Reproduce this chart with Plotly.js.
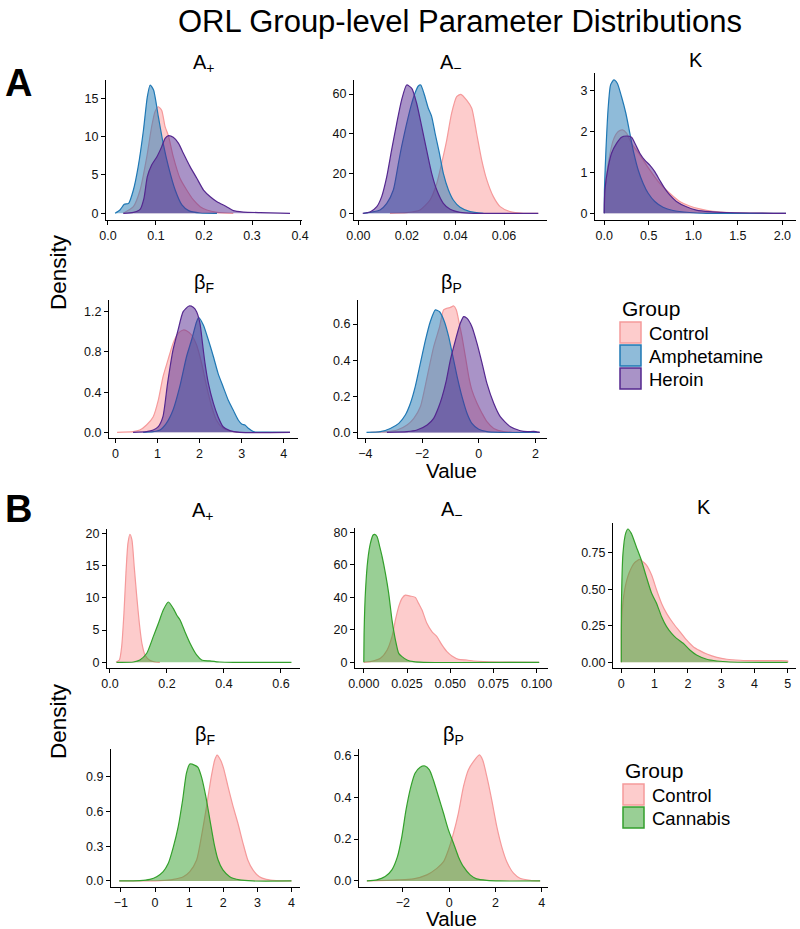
<!DOCTYPE html>
<html><head><meta charset="utf-8">
<script src="https://cdn.plot.ly/plotly-3.0.1.min.js"></script>
<style>html,body{margin:0;padding:0;background:#fff}#chart{width:800px;height:929px}</style>
</head><body><div id="chart"></div>
<script>
// ---------- Data ----------
const chartTitle = "ORL Group-level Parameter Distributions";
const groupsA = ["Control", "Amphetamine", "Heroin"];
const groupsB = ["Control", "Cannabis"];
const paramTitles = ["A<sub>+</sub>", "A<sub>−</sub>", "K", "β<sub>F</sub>", "β<sub>P</sub>"];

// Panel A, A+
const A_Ap_Control_x = [0.032,0.053,0.067,0.081,0.091,0.098,0.105,0.112,0.119,0.126,0.136,0.150,0.164,0.178,0.192,0.206,0.227,0.261];
const A_Ap_Control_y = [0,0.87,3.04,7.39,11.3,13.26,13.9,13.4,11.3,10.1,7.39,4.57,3.04,1.74,0.87,0.43,0.13,0];
const A_Ap_Amph_x = [0.015,0.025,0.034,0.043,0.053,0.063,0.074,0.082,0.088,0.095,0.105,0.115,0.126,0.140,0.154,0.168,0.192,0.227];
const A_Ap_Amph_y = [0,0.43,1.17,1.3,3.04,6.09,10.87,15.2,16.74,16.09,12.6,9.13,6.09,3.04,1.09,0.35,0.04,0];
const A_Ap_Heroin_x = [0.032,0.053,0.067,0.075,0.082,0.091,0.102,0.112,0.119,0.126,0.136,0.147,0.157,0.171,0.185,0.199,0.213,0.227,0.247,0.261,0.282,0.317,0.379];
const A_Ap_Heroin_y = [0,0.13,0.52,1.96,4.78,6.3,7.39,8.7,9.78,10.13,9.91,9.13,7.83,6.09,4.57,3.04,2.17,1.52,0.87,0.35,0.17,0.09,0];

// Panel A, A-
const A_Am_Control_x = [0.013,0.0199,0.0254,0.0295,0.0323,0.0343,0.0364,0.0384,0.0405,0.0422,0.0446,0.0467,0.0487,0.0508,0.0529,0.0556,0.0584,0.0625,0.068,0.0741];
const A_Am_Control_y = [0,0.34,1.68,6.71,15.1,25.2,36.9,50.3,58.7,59.9,57.0,52.9,40.3,26.8,16.8,8.39,3.36,0.84,0,0];
const A_Am_Amph_x = [0.0021,0.0089,0.0117,0.0144,0.0165,0.0178,0.0196,0.0216,0.0233,0.0247,0.0257,0.027,0.0288,0.0302,0.0316,0.0334,0.035,0.0371,0.0391,0.0419,0.046,0.0515];
const A_Am_Amph_y = [0,1.68,5.03,11.74,25.2,33.6,43.6,53.7,60.4,64.1,64.6,60.4,52.9,48.7,40.3,30.2,20.1,11.74,6.71,3.02,0.84,0];
const A_Am_Heroin_x = [0.0018,0.0048,0.0076,0.0096,0.0117,0.0137,0.0158,0.0178,0.0199,0.022,0.024,0.0261,0.0281,0.0302,0.0323,0.035,0.0378,0.0419,0.0474,0.0741];
const A_Am_Heroin_y = [0,0.67,3.36,8.39,18.46,31.9,45.3,57.0,64.6,62.9,55.4,43.6,31.9,20.1,11.7,5.03,2.01,0.5,0,0];

// Panel A, K
const A_K_Control_x = [0,0.007,0.045,0.101,0.157,0.205,0.25,0.306,0.399,0.511,0.623,0.735,0.847,0.959,1.071,1.22,1.407,2.041];
const A_K_Control_y = [0,0.57,1.22,1.79,2.0,2.04,1.96,1.71,1.43,1.06,0.73,0.49,0.29,0.18,0.11,0.05,0.02,0];
const A_K_Amph_x = [0,0.002,0.019,0.045,0.071,0.108,0.146,0.194,0.243,0.287,0.332,0.381,0.437,0.493,0.567,0.66,0.772,0.959,1.146,2.041];
const A_K_Amph_y = [0,0.57,1.55,2.61,3.14,3.26,3.18,2.85,2.44,1.96,1.47,1.06,0.73,0.49,0.29,0.15,0.07,0.02,0,0];
const A_K_Heroin_x = [0,0.007,0.045,0.082,0.138,0.194,0.25,0.306,0.362,0.399,0.455,0.511,0.567,0.623,0.679,0.735,0.81,0.922,1.034,1.183,1.369,2.041];
const A_K_Heroin_y = [0,0.57,1.14,1.47,1.71,1.86,1.89,1.86,1.63,1.47,1.30,1.18,1.02,0.81,0.61,0.45,0.29,0.16,0.08,0.04,0.02,0];

// Panel A, beta F
const A_bF_Control_x = [0.04,0.42,0.58,0.74,0.9,1.02,1.13,1.25,1.37,1.49,1.61,1.69,1.81,1.93,2.05,2.17,2.29,2.4,2.56,2.8,3.04,4.15];
const A_bF_Control_y = [0,0.007,0.023,0.073,0.156,0.32,0.55,0.72,0.885,0.984,1.018,1.011,0.968,0.868,0.686,0.454,0.255,0.123,0.04,0.007,0,0];
const A_bF_Amph_x = [0.66,0.9,1.06,1.21,1.37,1.53,1.69,1.81,1.93,1.98,2.09,2.21,2.33,2.44,2.56,2.68,2.8,2.92,3.0,3.08,3.16,3.28,3.6,4.15];
const A_bF_Amph_y = [0,0.007,0.023,0.089,0.222,0.454,0.752,0.918,1.10,1.14,1.067,0.918,0.752,0.587,0.454,0.322,0.222,0.123,0.083,0.073,0.04,0.007,0.003,0];
const A_bF_Heroin_x = [0.42,0.74,0.9,1.02,1.13,1.24,1.37,1.49,1.61,1.75,1.85,1.93,2.01,2.07,2.13,2.21,2.33,2.44,2.56,2.72,2.96,4.15];
const A_bF_Heroin_y = [0,0.007,0.023,0.056,0.156,0.487,0.819,1.018,1.2,1.256,1.243,1.2,1.084,0.885,0.686,0.487,0.288,0.156,0.056,0.017,0,0];

// Panel A, beta P
const A_bP_Control_x = [-3.82,-3.24,-2.88,-2.53,-2.29,-2.06,-1.82,-1.59,-1.38,-1.24,-1.12,-1.0,-0.88,-0.79,-0.71,-0.59,-0.47,-0.35,-0.24,-0.06,0.12,0.29,0.53,0.88,1.47,2.15];
const A_bP_Control_y = [0,0.004,0.013,0.041,0.078,0.142,0.308,0.474,0.585,0.678,0.687,0.692,0.7,0.678,0.622,0.53,0.419,0.308,0.234,0.161,0.105,0.059,0.022,0.004,0,0];
const A_bP_Amph_x = [-3.96,-3.47,-3.12,-2.82,-2.59,-2.41,-2.24,-2.06,-1.88,-1.71,-1.53,-1.38,-1.21,-1.06,-0.91,-0.76,-0.59,-0.41,-0.24,0,0.29,0.76,2.15];
const A_bP_Amph_y = [0,0.004,0.022,0.05,0.096,0.161,0.253,0.382,0.511,0.613,0.678,0.668,0.613,0.53,0.419,0.308,0.198,0.105,0.05,0.017,0.004,0,0];
const A_bP_Heroin_x = [-3.24,-2.53,-2.18,-1.82,-1.59,-1.41,-1.29,-1.14,-1.0,-0.82,-0.65,-0.53,-0.41,-0.24,-0.06,0.12,0.29,0.53,0.76,1.12,1.47,1.71,1.94,2.15];
const A_bP_Heroin_y = [0,0.004,0.013,0.041,0.078,0.142,0.198,0.29,0.401,0.511,0.604,0.641,0.631,0.585,0.493,0.382,0.271,0.161,0.087,0.031,0.009,0.004,0.006,0];

// Panel B, A+
const B_Ap_Control_x = [0.021,0.033,0.041,0.049,0.056,0.063,0.07,0.077,0.085,0.094,0.103,0.112,0.123,0.138,0.158,0.175];
const B_Ap_Control_y = [0,0.36,2.43,7.6,13.8,18.45,19.85,18.97,14.83,10.18,6.05,2.95,1.14,0.36,0.05,0];
const B_Ap_Cannabis_x = [0.023,0.082,0.105,0.129,0.152,0.17,0.187,0.205,0.222,0.234,0.246,0.263,0.281,0.304,0.322,0.351,0.386,0.433,0.637];
const B_Ap_Cannabis_y = [0,0.05,0.36,1.4,3.98,6.05,8.11,9.35,8.37,7.34,6.56,4.75,2.95,1.14,0.36,0.21,0.05,0,0];

// Panel B, A-
const B_Am_Control_x = [0,0.0038,0.0096,0.0135,0.0163,0.0183,0.0202,0.0221,0.024,0.0269,0.0298,0.0317,0.0337,0.0365,0.0394,0.0423,0.0452,0.0481,0.051,0.0548,0.0596,0.0635,0.0692,0.0788,0.1015];
const B_Am_Control_y = [0,0.41,2.46,7.6,15.8,26.1,34.3,39.4,41.4,40.8,40.0,36.3,32.2,24.0,18.9,15.8,10.7,6.56,3.9,1.85,1.44,0.82,0.41,0.2,0];
const B_Am_Cannabis_x = [0,0.0002,0.001,0.0023,0.0038,0.0054,0.0063,0.0077,0.0092,0.0106,0.0125,0.0144,0.0163,0.0183,0.0202,0.0221,0.025,0.0288,0.0346,0.1015];
const B_Am_Cannabis_y = [0,19.9,44.5,63.0,73.2,78.4,78.8,77.3,71.2,65.0,54.8,42.5,26.1,13.7,5.5,3.5,1.44,0.41,0,0];

// Panel B, K
const B_K_Control_x = [0,0.01,0.1,0.23,0.4,0.55,0.65,0.75,0.91,1.06,1.21,1.36,1.56,1.76,1.96,2.16,2.36,2.57,2.87,3.17,3.57,4.07,4.58,5.0,5.0];
const B_K_Control_y = [0,0.29,0.495,0.609,0.682,0.704,0.688,0.666,0.597,0.495,0.403,0.335,0.267,0.21,0.153,0.107,0.08,0.057,0.034,0.021,0.014,0.011,0.011,0.009,0];
const B_K_Cannabis_x = [0,0.003,0.05,0.13,0.2,0.3,0.45,0.6,0.75,0.91,1.06,1.21,1.36,1.51,1.66,1.86,2.06,2.26,2.57,2.87,3.27,5.0];
const B_K_Cannabis_y = [0,0.38,0.745,0.882,0.912,0.882,0.791,0.7,0.586,0.472,0.403,0.312,0.244,0.198,0.164,0.13,0.084,0.05,0.021,0.009,0.002,0];

// Panel B, beta F
const B_bF_Control_x = [-1.05,0.15,0.54,0.83,1.02,1.22,1.36,1.51,1.65,1.75,1.82,1.92,2.01,2.14,2.29,2.43,2.58,2.72,2.87,3.06,3.26,3.55,4.0];
const B_bF_Control_y = [0,0.003,0.014,0.037,0.081,0.181,0.383,0.641,0.9,1.044,1.087,1.044,0.972,0.814,0.641,0.498,0.325,0.181,0.095,0.037,0.014,0.003,0];
const B_bF_Cannabis_x = [-1.05,-0.44,-0.15,0.05,0.24,0.39,0.54,0.68,0.81,0.92,1.02,1.17,1.26,1.36,1.49,1.61,1.73,1.85,1.99,2.19,2.48,2.87,4.0];
const B_bF_Cannabis_y = [0,0.003,0.014,0.037,0.081,0.152,0.296,0.469,0.699,0.929,1.009,0.998,0.981,0.9,0.728,0.526,0.325,0.181,0.095,0.037,0.009,0,0];

// Panel B, beta P
const B_bP_Control_x = [-3.55,-2.26,-1.54,-0.96,-0.53,-0.24,-0.03,0.19,0.4,0.62,0.83,1.05,1.31,1.45,1.63,1.84,2.06,2.27,2.49,2.78,3.06,3.5,3.93];
const B_bP_Control_y = [0,0.005,0.01,0.029,0.06,0.092,0.148,0.228,0.323,0.45,0.53,0.57,0.602,0.578,0.498,0.387,0.259,0.164,0.092,0.037,0.013,0.003,0];
const B_bP_Cannabis_x = [-3.55,-3.12,-2.76,-2.47,-2.23,-2.04,-1.86,-1.65,-1.47,-1.25,-1.04,-0.85,-0.68,-0.46,-0.24,-0.03,0.19,0.4,0.62,0.91,1.19,1.63,2.2,3.93];
const B_bP_Cannabis_y = [0,0.005,0.021,0.053,0.116,0.212,0.339,0.45,0.514,0.543,0.549,0.53,0.482,0.403,0.323,0.244,0.18,0.116,0.068,0.029,0.01,0.003,0,0];

// Tick values / labels
const tk_A_Ap_x = [0,0.1,0.2,0.3,0.4], tl_A_Ap_x = ["0.0","0.1","0.2","0.3","0.4"];
const tk_A_Ap_y = [0,5,10,15], tl_A_Ap_y = ["0","5","10","15"];
const tk_A_Am_x = [0,0.02,0.04,0.06], tl_A_Am_x = ["0.00","0.02","0.04","0.06"];
const tk_A_Am_y = [0,20,40,60], tl_A_Am_y = ["0","20","40","60"];
const tk_A_K_x = [0,0.5,1,1.5,2], tl_A_K_x = ["0.0","0.5","1.0","1.5","2.0"];
const tk_A_K_y = [0,1,2,3], tl_A_K_y = ["0","1","2","3"];
const tk_A_bF_x = [0,1,2,3,4], tl_A_bF_x = ["0","1","2","3","4"];
const tk_A_bF_y = [0,0.4,0.8,1.2], tl_A_bF_y = ["0.0","0.4","0.8","1.2"];
const tk_A_bP_x = [-4,-2,0,2], tl_A_bP_x = ["−4","−2","0","2"];
const tk_A_bP_y = [0,0.2,0.4,0.6], tl_A_bP_y = ["0.0","0.2","0.4","0.6"];
const tk_B_Ap_x = [0,0.2,0.4,0.6], tl_B_Ap_x = ["0.0","0.2","0.4","0.6"];
const tk_B_Ap_y = [0,5,10,15,20], tl_B_Ap_y = ["0","5","10","15","20"];
const tk_B_Am_x = [0,0.025,0.05,0.075,0.1], tl_B_Am_x = ["0.000","0.025","0.050","0.075","0.100"];
const tk_B_Am_y = [0,20,40,60,80], tl_B_Am_y = ["0","20","40","60","80"];
const tk_B_K_x = [0,1,2,3,4,5], tl_B_K_x = ["0","1","2","3","4","5"];
const tk_B_K_y = [0,0.25,0.5,0.75], tl_B_K_y = ["0.00","0.25","0.50","0.75"];
const tk_B_bF_x = [-1,0,1,2,3,4], tl_B_bF_x = ["−1","0","1","2","3","4"];
const tk_B_bF_y = [0,0.3,0.6,0.9], tl_B_bF_y = ["0.0","0.3","0.6","0.9"];
const tk_B_bP_x = [-2,0,2,4], tl_B_bP_x = ["−2","0","2","4"];
const tk_B_bP_y = [0,0.2,0.4,0.6], tl_B_bP_y = ["0.0","0.2","0.4","0.6"];

// ---------- Styles ----------
const W = 800, H = 929;
const FONT = "Liberation Sans, Arial, Helvetica, sans-serif";
const colors = {
  Control: {line: "#F59A9B", fill: "rgba(251,154,153,0.5)"},
  Amphetamine: {line: "#1F78B4", fill: "rgba(31,120,180,0.5)"},
  Heroin: {line: "#54278F", fill: "rgba(84,39,143,0.5)"},
  Cannabis: {line: "#33A02C", fill: "rgba(51,160,44,0.5)"}
};
const fx = p => p / W, fy = p => 1 - p / H;

// panel layout: [left, right, top, bottom] in px
const panels = [
  {box:[106,302,80,220], xr:[-0.004,0.404], yr:[-0.87,17.39], xt:[tk_A_Ap_x,tl_A_Ap_x], yt:[tk_A_Ap_y,tl_A_Ap_y], title:paramTitles[0], tpos:[204,64],
   series:[["Control",A_Ap_Control_x,A_Ap_Control_y],["Amphetamine",A_Ap_Amph_x,A_Ap_Amph_y],["Heroin",A_Ap_Heroin_x,A_Ap_Heroin_y]]},
  {box:[354,547,80,220], xr:[-0.0018,0.0777], yr:[-3.36,67.1], xt:[tk_A_Am_x,tl_A_Am_x], yt:[tk_A_Am_y,tl_A_Am_y], title:paramTitles[1], tpos:[451,64],
   series:[["Control",A_Am_Control_x,A_Am_Control_y],["Amphetamine",A_Am_Amph_x,A_Am_Amph_y],["Heroin",A_Am_Heroin_x,A_Am_Heroin_y]]},
  {box:[595,796,73,220], xr:[-0.104,2.153], yr:[-0.163,3.43], xt:[tk_A_K_x,tl_A_K_x], yt:[tk_A_K_y,tl_A_K_y], title:paramTitles[2], tpos:[696,60],
   series:[["Control",A_K_Control_x,A_K_Control_y],["Amphetamine",A_K_Amph_x,A_K_Amph_y],["Heroin",A_K_Heroin_x,A_K_Heroin_y]]},
  {box:[109,298,300,438], xr:[-0.152,4.34], yr:[-0.056,1.316], xt:[tk_A_bF_x,tl_A_bF_x], yt:[tk_A_bF_y,tl_A_bF_y], title:paramTitles[3], tpos:[204,284],
   series:[["Control",A_bF_Control_x,A_bF_Control_y],["Amphetamine",A_bF_Amph_x,A_bF_Amph_y],["Heroin",A_bF_Heroin_x,A_bF_Heroin_y]]},
  {box:[358,547,300,438], xr:[-4.26,2.41], yr:[-0.031,0.733], xt:[tk_A_bP_x,tl_A_bP_x], yt:[tk_A_bP_y,tl_A_bP_y], title:paramTitles[4], tpos:[452,284],
   series:[["Control",A_bP_Control_x,A_bP_Control_y],["Amphetamine",A_bP_Amph_x,A_bP_Amph_y],["Heroin",A_bP_Heroin_x,A_bP_Heroin_y]]},
  {box:[107,300,529,668], xr:[-0.0105,0.667], yr:[-0.88,20.67], xt:[tk_B_Ap_x,tl_B_Ap_x], yt:[tk_B_Ap_y,tl_B_Ap_y], title:paramTitles[0], tpos:[203,512],
   series:[["Control",B_Ap_Control_x,B_Ap_Control_y],["Cannabis",B_Ap_Cannabis_x,B_Ap_Cannabis_y]]},
  {box:[355,548,528,668], xr:[-0.0051,0.1066], yr:[-3.49,82.7], xt:[tk_B_Am_x,tl_B_Am_x], yt:[tk_B_Am_y,tl_B_Am_y], title:paramTitles[1], tpos:[452,511],
   series:[["Control",B_Am_Control_x,B_Am_Control_y],["Cannabis",B_Am_Cannabis_x,B_Am_Cannabis_y]]},
  {box:[613,796,523,668], xr:[-0.25,5.25], yr:[-0.039,0.953], xt:[tk_B_K_x,tl_B_K_x], yt:[tk_B_K_y,tl_B_K_y], title:paramTitles[2], tpos:[704,507],
   series:[["Control",B_K_Control_x,B_K_Control_y],["Cannabis",B_K_Cannabis_x,B_K_Cannabis_y]]},
  {box:[111,300,749,887], xr:[-1.29,4.25], yr:[-0.052,1.139], xt:[tk_B_bF_x,tl_B_bF_x], yt:[tk_B_bF_y,tl_B_bF_y], title:paramTitles[3], tpos:[205,735],
   series:[["Control",B_bF_Control_x,B_bF_Control_y],["Cannabis",B_bF_Cannabis_x,B_bF_Cannabis_y]]},
  {box:[359,548,749,887], xr:[-3.89,4.27], yr:[-0.029,0.63], xt:[tk_B_bP_x,tl_B_bP_x], yt:[tk_B_bP_y,tl_B_bP_y], title:paramTitles[4], tpos:[453,735],
   series:[["Control",B_bP_Control_x,B_bP_Control_y],["Cannabis",B_bP_Cannabis_x,B_bP_Cannabis_y]]}
];

const traces = [];
const layout = {
  width: W, height: H, margin: {l:0, r:0, t:0, b:0},
  paper_bgcolor: "#fff", plot_bgcolor: "#fff",
  showlegend: false, font: {family: FONT, color: "#000"},
  annotations: [], shapes: []
};

panels.forEach((p, i) => {
  const n = i + 1, sfx = n === 1 ? "" : String(n);
  const axBase = {showline:true, linecolor:"#000", linewidth:1, ticks:"outside", ticklen:4, tickwidth:1,
    tickcolor:"#000", showgrid:false, zeroline:false, fixedrange:true,
    tickfont:{family:FONT, size:12.5, color:"#111"}, tickmode:"array"};
  layout["xaxis" + sfx] = Object.assign({}, axBase, {
    domain:[fx(p.box[0]), fx(p.box[1])], anchor:"y" + sfx, range:p.xr,
    tickvals:p.xt[0], ticktext:p.xt[1]});
  layout["yaxis" + sfx] = Object.assign({}, axBase, {
    domain:[fy(p.box[3]), fy(p.box[2])], anchor:"x" + sfx, range:p.yr,
    tickvals:p.yt[0], ticktext:p.yt[1]});
  p.series.forEach(([g, xs, ys]) => {
    traces.push({type:"scatter", mode:"lines", x:xs, y:ys, name:g,
      xaxis:"x" + sfx, yaxis:"y" + sfx, fill:"tozeroy", fillcolor:colors[g].fill,
      line:{color:colors[g].line, width:1.2, shape:"spline", smoothing:0.6},
      showlegend:false, hoverinfo:"skip"});
  });
  layout.annotations.push({text:p.title, xref:"paper", yref:"paper", x:fx(p.tpos[0]), y:fy(p.tpos[1]),
    xanchor:"center", yanchor:"middle", showarrow:false, font:{family:FONT, size:20, color:"#000"}});
});

function ann(text, px, py, size, extra) {
  layout.annotations.push(Object.assign({text, xref:"paper", yref:"paper", x:fx(px), y:fy(py),
    xanchor:"center", yanchor:"middle", showarrow:false, font:{family:FONT, size, color:"#000"}}, extra || {}));
}
ann(chartTitle, 460, 21, 31);
ann("<b>A</b>", 18, 83, 38);
ann("<b>B</b>", 18, 509, 38);
ann("Density", 58, 272, 22.5, {textangle:-90});
ann("Density", 58, 721, 22.5, {textangle:-90});
ann("Value", 452, 470, 20.5, {height:18});
ann("Value", 452, 918, 20.5, {height:18});

function legend(groups, left, titleY, firstTop) {
  ann("Group", left, titleY, 21, {xanchor:"left"});
  groups.forEach((g, k) => {
    const top = firstTop + k * 23;
    layout.shapes.push({type:"rect", xref:"paper", yref:"paper", x0:fx(left), x1:fx(left + 21),
      y0:fy(top + 21), y1:fy(top), fillcolor:colors[g].fill, line:{color:colors[g].line, width:1.5}});
    ann(g, left + 27, top + 11, 18.5, {xanchor:"left"});
  });
}
legend(groupsA, 620, 308, 322);
legend(groupsB, 623, 770, 784);

Plotly.newPlot("chart", traces, layout, {displayModeBar:false, staticPlot:true});
</script>
</body></html>
